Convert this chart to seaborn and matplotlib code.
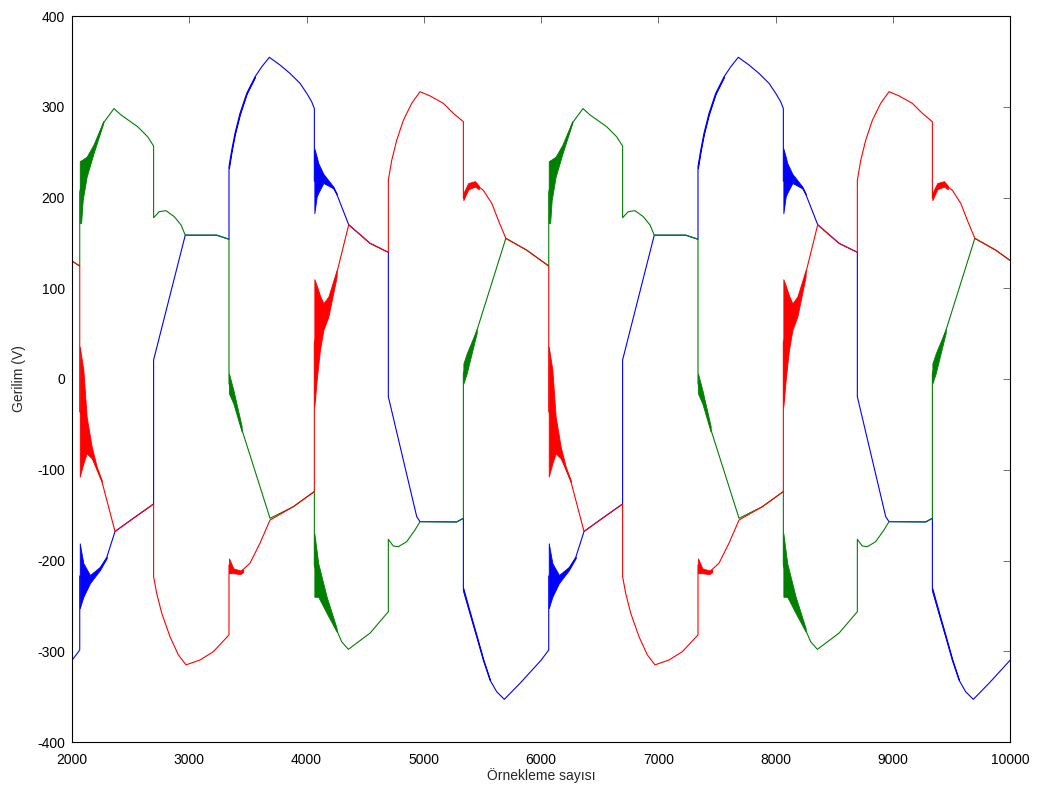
import matplotlib
matplotlib.use("Agg")
import matplotlib.pyplot as plt
import pandas as pd
import seaborn as sns

# Phase voltages (V) against sample index: breakpoints of each waveform
red_x = [2000, 2066,
         2066, 2097, 2125, 2168, 2211, 2253, 2367, 2523, 2696, 2696,
         2722, 2765, 2836, 2907, 2972, 3092, 3205, 3339, 3339, 3376,
         3433, 3518, 3603, 3689, 3888, 4067, 4067, 4100, 4144, 4186,
         4257, 4360, 4542, 4698, 4698, 4727, 4769, 4826, 4897, 4968,
         5053, 5167, 5252, 5338, 5338, 5380, 5437, 5508, 5580, 5636,
         5700, 5878, 6066,
         6066, 6097, 6125, 6168, 6211, 6253, 6367, 6523, 6696, 6696,
         6722, 6765, 6836, 6907, 6972, 7092, 7205, 7339, 7339, 7376,
         7433, 7518, 7603, 7689, 7888, 8067, 8067, 8100, 8144, 8186,
         8257, 8360, 8542, 8698, 8698, 8727, 8769, 8826, 8897, 8968,
         9053, 9167, 9252, 9338, 9338, 9380, 9437, 9508, 9580, 9636,
         9700, 9878, 10066]
red_y = [130, 124.5,
         -36, -41, -62, -81, -98.5, -112, -168, -153.5, -137.7, -217.8,
         -236, -258, -284, -304, -315, -309.6, -300.5, -282, -205, -211,
         -213, -203, -181, -155.4, -140.7, -124, 40, 55, 68, 80,
         116, 170, 149.5, 139.6, 219, 241, 263, 285, 303.8, 316.6,
         312, 303.8, 292.8, 283.5, 199, 212.7, 215, 208, 193.6, 175,
         155, 142, 124.5,
         -36, -41, -62, -81, -98.5, -112, -168, -153.5, -137.7, -217.8,
         -236, -258, -284, -304, -315, -309.6, -300.5, -282, -205, -211,
         -213, -203, -181, -155.4, -140.7, -124, 40, 55, 68, 80,
         116, 170, 149.5, 139.6, 219, 241, 263, 285, 303.8, 316.6,
         312, 303.8, 292.8, 283.5, 199, 212.7, 215, 208, 193.6, 175,
         155, 142, 124.5]

green_x = [2000, 2066,
           2066, 2125, 2182, 2267, 2358, 2418, 2560, 2645, 2696, 2696,
           2744, 2802, 2873, 2930, 2966, 3234, 3339, 3339, 3376, 3447,
           3689, 3888, 4067, 4067, 4100, 4172, 4257, 4300, 4357, 4542,
           4698, 4698, 4740, 4783, 4854, 4925, 4968, 5281, 5338, 5338,
           5366, 5452, 5700, 5878, 6066,
           6066, 6125, 6182, 6267, 6358, 6418, 6560, 6645, 6696, 6696,
           6744, 6802, 6873, 6930, 6966, 7234, 7339, 7339, 7376, 7447,
           7689, 7888, 8067, 8067, 8100, 8172, 8257, 8300, 8357, 8542,
           8698, 8698, 8740, 8783, 8854, 8925, 8968, 9281, 9338, 9338,
           9366, 9452, 9700, 9878, 10066]
green_y = [130, 124.5,
           206, 233, 252, 282, 298, 291, 278, 267, 256.7, 177.7,
           184.4, 185.5, 178.8, 169.7, 158.5, 158.5, 154, -5, -20, -55,
           -153.5, -140.7, -124, -205, -221, -249, -276.6, -289.5, -297.9, -280,
           -256.4, -176.7, -184, -184.8, -179.3, -166.4, -157.2, -157.5, -153.5, 6,
           17, 53, 155, 142, 124.5,
           206, 233, 252, 282, 298, 291, 278, 267, 256.7, 177.7,
           184.4, 185.5, 178.8, 169.7, 158.5, 158.5, 154, -5, -20, -55,
           -153.5, -140.7, -124, -205, -221, -249, -276.6, -289.5, -297.9, -280,
           -256.4, -176.7, -184, -184.8, -179.3, -166.4, -157.2, -157.5, -153.5, 6,
           17, 53, 155, 142, 124.5]

blue_x = [2000, 2066,
          2066, 2097, 2153, 2239, 2296, 2367, 2523, 2696, 2696, 2966,
          3234, 3339, 3339, 3362, 3390, 3433, 3490, 3561, 3618, 3683,
          3774, 3859, 3945, 4002, 4044, 4067, 4067, 4100, 4158, 4229,
          4257, 4360, 4542, 4698, 4698, 4940, 4968, 5281, 5338, 5338,
          5394, 5452, 5508, 5565, 5622, 5687, 5821, 6000, 6066,
          6066, 6097, 6153, 6239, 6296, 6367, 6523, 6696, 6696, 6966,
          7234, 7339, 7339, 7362, 7390, 7433, 7490, 7561, 7618, 7683,
          7774, 7859, 7945, 8002, 8044, 8067, 8067, 8100, 8158, 8229,
          8257, 8360, 8542, 8698, 8698, 8940, 8968, 9281, 9338, 9338,
          9394, 9452, 9508, 9565, 9622, 9687, 9821, 10000, 10066]
blue_y = [-310, -298.6,
          -217, -221, -220, -208.5, -196.7, -168, -153.5, -137.7, 21, 158.5,
          158.5, 154, 234, 252, 270.7, 292.8, 314.8, 333, 344, 354.5,
          346, 336.8, 325.8, 314.8, 305.6, 298, 218, 221, 219, 211,
          204, 170, 149.5, 139.6, -19.5, -151.7, -157.2, -157.5, -153.5, -232.5,
          -258, -284, -309.6, -331.7, -344.6, -353, -335.3, -310, -298.6,
          -217, -221, -220, -208.5, -196.7, -168, -153.5, -137.7, 21, 158.5,
          158.5, 154, 234, 252, 270.7, 292.8, 314.8, 333, 344, 354.5,
          346, 336.8, 325.8, 314.8, 305.6, 298, 218, 221, 219, 211,
          204, 170, 149.5, 139.6, -19.5, -151.7, -157.2, -157.5, -153.5, -232.5,
          -258, -284, -309.6, -331.7, -344.6, -353, -335.3, -310, -298.6]

# Switching ringing: sample index with upper / lower envelope of each burst
red_ring_x = [[2066, 2097, 2125, 2168, 2211, 2253], [3339, 3376, 3433, 3460],
              [4067, 4087, 4100, 4115, 4144, 4186, 4257], [5338, 5380, 5437, 5470],
              [6066, 6097, 6125, 6168, 6211, 6253], [7339, 7376, 7433, 7460],
              [8067, 8087, 8100, 8115, 8144, 8186, 8257], [9338, 9380, 9437, 9470]]
red_ring_hi = [[35.6, 10, -41.5, -74.6, -96.6, -111.3], [-197.6, -208.6, -211, -210],
               [110, 103, 98, 92, 83.4, 90.7, 120], [205, 216, 218, 213],
               [35.6, 10, -41.5, -74.6, -96.6, -111.3], [-197.6, -208.6, -211, -210],
               [110, 103, 98, 92, 83.4, 90.7, 120], [205, 216, 218, 213]]
red_ring_lo = [[-107.6, -93, -82, -87.4, -100.3, -113.2], [-214, -214, -215, -213],
               [-30.5, -1.1, 15, 32, 54, 68.6, 112.7], [197, 209, 212, 209],
               [-107.6, -93, -82, -87.4, -100.3, -113.2], [-214, -214, -215, -213],
               [-30.5, -1.1, 15, 32, 54, 68.6, 112.7], [197, 209, 212, 209]]

green_ring_x = [[2066, 2078, 2091, 2125, 2182, 2267], [3339, 3376, 3447],
                [4067, 4100, 4172, 4257], [5338, 5366, 5452],
                [6066, 6078, 6091, 6125, 6182, 6267], [7339, 7376, 7447],
                [8067, 8100, 8172, 8257], [9338, 9366, 9452]]
green_ring_hi = [[240, 241, 242, 245, 258, 284], [6, -12, -52],
                 [-170, -203, -240, -274.5], [17, 28, 55],
                 [240, 241, 242, 245, 258, 284], [6, -12, -52],
                 [-170, -203, -240, -274.5], [17, 28, 55]]
green_ring_lo = [[172, 172, 197, 223, 248, 282], [-16, -27, -58],
                 [-240, -240, -258, -278.5], [-5, 6, 51],
                 [172, 172, 197, 223, 248, 282], [-16, -27, -58],
                 [-240, -240, -258, -278.5], [-5, 6, 51]]

blue_ring_x = [[2066, 2097, 2153, 2239, 2296], [3339, 3362, 3390, 3433, 3490, 3561],
               [4067, 4087, 4100, 4144, 4229, 4257], [5338, 5394, 5452, 5508, 5565],
               [6066, 6097, 6153, 6239, 6296], [7339, 7362, 7390, 7433, 7490, 7561],
               [8067, 8087, 8100, 8144, 8229, 8257], [9338, 9394, 9452, 9508, 9565]]
blue_ring_hi = [[-181, -203, -216, -207, -196], [236, 253.5, 272, 294, 315.5, 333.5],
                [254, 245, 238, 226, 212, 204.5], [-230.5, -256.5, -282.7, -308.6, -331.2],
                [-181, -203, -216, -207, -196], [236, 253.5, 272, 294, 315.5, 333.5],
                [254, 245, 238, 226, 212, 204.5], [-230.5, -256.5, -282.7, -308.6, -331.2]]
blue_ring_lo = [[-252.7, -240, -225, -210.5, -197.5], [232, 250.5, 269.5, 291.5, 314, 332.5],
                [182.6, 201, 205, 216, 210, 203.5], [-234.5, -259.5, -285.3, -310.6, -332.2],
                [-252.7, -240, -225, -210.5, -197.5], [232, 250.5, 269.5, 291.5, 314, 332.5],
                [182.6, 201, 205, 216, 210, 203.5], [-234.5, -259.5, -285.3, -310.6, -332.2]]

x_ticks = [2000, 3000, 4000, 5000, 6000, 7000, 8000, 9000, 10000]
y_ticks = [-400, -300, -200, -100, 0, 100, 200, 300, 400]

sns.set_theme(style="white")
plt.rcParams["font.family"] = ["Liberation Sans", "DejaVu Sans"]

palette = {"b": (0.0, 0.0, 1.0), "g": (0.0, 0.5, 0.0), "r": (1.0, 0.0, 0.0)}

frames = []
for name, xs, ys in [("b", blue_x, blue_y), ("g", green_x, green_y), ("r", red_x, red_y)]:
    assert len(xs) == len(ys), name
    frames.append(pd.DataFrame({"sample": xs, "volt": ys, "phase": name}))
df = pd.concat(frames, ignore_index=True)

fig = plt.figure(figsize=(10.41, 7.87), dpi=100)
ax = fig.add_axes([72 / 1041, 45 / 787, 938 / 1041, 726 / 787])

sns.lineplot(data=df, x="sample", y="volt", hue="phase", hue_order=["b", "g", "r"],
             palette=palette, estimator=None, sort=False, linewidth=0.8,
             legend=False, ax=ax)

for name, rx, rhi, rlo in [("b", blue_ring_x, blue_ring_hi, blue_ring_lo),
                           ("g", green_ring_x, green_ring_hi, green_ring_lo),
                           ("r", red_ring_x, red_ring_hi, red_ring_lo)]:
    for xs, hi, lo in zip(rx, rhi, rlo):
        assert len(xs) == len(hi) == len(lo)
        ax.fill_between(xs, lo, hi, color=palette[name], linewidth=0.6)

ax.set_xlim(2000, 10000)
ax.set_ylim(-400, 400)
ax.set_xticks(x_ticks)
ax.set_yticks(y_ticks)
ax.set_xticklabels([str(v) for v in x_ticks])
ax.set_yticklabels([str(v) for v in y_ticks])
ax.tick_params(axis="both", direction="in", top=True, right=True, length=5,
               width=0.6, color="0.35", labelsize=10, labelcolor="black")
ax.tick_params(axis="x", pad=8)
ax.tick_params(axis="y", pad=5)
for sp in ax.spines.values():
    sp.set_color("black")
    sp.set_linewidth(0.8)

ax.set_xlabel("Örnekleme sayısı", fontsize=10, labelpad=1)
ax.set_ylabel("Gerilim (V)", fontsize=10, labelpad=8)

fig.savefig("out.png", dpi=100, facecolor="white")
